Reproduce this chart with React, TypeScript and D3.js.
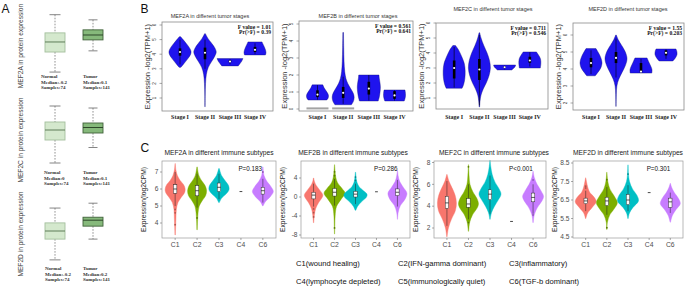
import React from "react";
import * as d3 from "d3";

type Prof = [number, number][];
type Box5 = [number, number, number, number, number];

// ================= DATA =================
// Panel A: protein expression box plots [min, q1, median, q3, max]
const proteinGenes = ["MEF2A", "MEF2C", "MEF2D"];
const proteinNormalBoxes: Box5[] = [
  [-1.49, -0.63, -0.2, 0.19, 0.97],
  [-1.32, -0.4, 0.0, 0.32, 0.96],
  [-1.27, -0.5, -0.2, 0.1, 0.65],
];
const proteinTumorBoxes: Box5[] = [
  [-0.58, -0.11, 0.1, 0.32, 0.75],
  [-0.7, -0.12, 0.1, 0.28, 0.88],
  [-0.5, -0.02, 0.2, 0.31, 0.83],
];
const proteinNormalMedians = ["-0.2", "0", "-0.2"];
const proteinTumorMedians = ["0.1", "0.1", "0.2"];
const proteinSamples = [74, 141];

// Panel B: tumor stages (violin profiles: [value, relative half-width])
const stageLabels = ["Stage I", "Stage II", "Stage III", "Stage IV"];
const stageGenes = ["MEF2A", "MEF2B", "MEF2C", "MEF2D"];
const stageFValues = ["1.01", "0.561", "0.711", "1.55"];
const stagePValues = ["0.39", "0.641", "0.546", "0.203"];
const stageTicks = [[1, 2, 3, 4, 5, 6], [0, 1, 2, 3, 4, 5], [1, 2, 3, 4, 5, 6], [2, 3, 4, 5, 6]];

const mef2aStageViolins: Prof[] = [
  [[3.1, 0.08], [3.35, 0.35], [3.7, 0.72], [4.0, 0.97], [4.2, 1], [4.45, 0.85], [4.75, 0.55], [5.0, 0.28], [5.2, 0.06]],
  [[0.4, 0.01], [1.2, 0.02], [2.0, 0.05], [2.6, 0.12], [3.1, 0.3], [3.5, 0.6], [3.85, 0.88], [4.15, 1.02], [4.45, 0.88], [4.8, 0.55], [5.1, 0.25], [5.4, 0.04]],
  [[3.2, 0.75], [3.35, 0.9], [3.5, 1.05], [3.7, 1.18]],
  [[3.95, 0.95], [4.1, 1], [4.3, 0.95], [4.5, 0.85], [4.7, 0.72], [4.84, 0.64]],
];
const mef2aStageBoxes: Box5[] = [
  [3.3, 3.9, 4.15, 4.4, 5.0],
  [3.0, 3.65, 4.1, 4.45, 5.0],
  [3.3, 3.45, 3.5, 3.58, 3.65],
  [4.0, 4.15, 4.3, 4.5, 4.75],
];
const mef2bStageViolins: Prof[] = [
  [[0.53, 0.85], [0.65, 0.97], [0.8, 1], [0.95, 0.9], [1.1, 0.75], [1.25, 0.6], [1.42, 0.48]],
  [[0.25, 0.75], [0.45, 0.93], [0.7, 1], [0.95, 0.9], [1.2, 0.68], [1.5, 0.42], [1.8, 0.25], [2.2, 0.14], [2.8, 0.08], [3.6, 0.05], [4.5, 0.03]],
  [[0.47, 0.85], [0.7, 0.95], [1.0, 1.02], [1.3, 1.05], [1.6, 1.0], [1.8, 0.95], [2.0, 0.92]],
  [[0.47, 0.88], [0.6, 0.95], [0.8, 1], [1.0, 0.98], [1.12, 0.95]],
];
const mef2bStageBoxes: Box5[] = [
  [0.55, 0.7, 0.85, 1.1, 1.4],
  [0.3, 0.65, 0.95, 1.3, 1.9],
  [0.5, 0.85, 1.2, 1.6, 2.0],
  [0.5, 0.6, 0.8, 1.05, 1.1],
];
const mef2bStageZeroGroups = ["Stage I", "Stage II"];
const mef2cStageViolins: Prof[] = [
  [[1.65, 0.72], [1.9, 0.86], [2.3, 0.97], [2.8, 1], [3.3, 0.92], [3.8, 0.66], [4.2, 0.4], [4.5, 0.12]],
  [[0.4, 0.02], [0.8, 0.06], [1.2, 0.15], [1.6, 0.35], [2.0, 0.62], [2.5, 0.88], [3.0, 1], [3.5, 0.92], [4.0, 0.7], [4.5, 0.4], [5.0, 0.15], [5.35, 0.03]],
  [[2.87, 0.65], [3.0, 0.85], [3.12, 0.97], [3.2, 1.0]],
  [[3.0, 0.95], [3.3, 1.0], [3.6, 0.97], [3.85, 0.8], [4.07, 0.6]],
];
const mef2cStageBoxes: Box5[] = [
  [1.7, 2.3, 3.0, 3.5, 4.4],
  [0.5, 2.2, 2.9, 3.6, 5.2],
  [2.9, 3.0, 3.05, 3.1, 3.15],
  [3.1, 3.35, 3.5, 3.75, 4.05],
];
const mef2dStageViolins: Prof[] = [
  [[3.6, 0.38], [3.8, 0.62], [4.05, 0.88], [4.35, 1], [4.65, 0.9], [4.95, 0.68], [5.2, 0.45]],
  [[1.8, 0.01], [2.5, 0.03], [3.0, 0.08], [3.4, 0.25], [3.8, 0.55], [4.2, 0.85], [4.6, 1], [5.0, 0.85], [5.4, 0.5], [5.7, 0.22], [6.0, 0.03]],
  [[3.76, 0.98], [3.95, 1], [4.15, 0.9], [4.4, 0.72], [4.65, 0.55]],
  [[4.47, 0.62], [4.65, 0.85], [4.85, 1], [5.05, 0.98], [5.18, 0.9]],
];
const mef2dStageBoxes: Box5[] = [
  [3.7, 4.1, 4.35, 4.65, 5.1],
  [3.5, 4.35, 4.65, 5.0, 5.8],
  [3.76, 3.8, 3.85, 4.35, 4.6],
  [4.6, 4.8, 4.95, 5.1, 5.15],
];

// Panel C: immune subtypes [whiskerLow, q1, median, q3, whiskerHigh]
const subtypeLabels = ["C1", "C2", "C3", "C4", "C6"];
const subtypeGenes = ["MEF2A", "MEF2B", "MEF2C", "MEF2D"];
const subtypePValues = ["P=0.183", "P=0.286", "P<0.001", "P=0.301"];
const subtypeTicks = [[4, 5, 6, 7], [-8, -4, 0, 4], [2, 4, 6, 8], [4.5, 5.5, 6.5, 7.5, 8.5]];
const subtypeLegend = [
  ["C1(wound healing)", "C2(IFN-gamma dominant)", "C3(inflammatory)"],
  ["C4(lymphocyte depleted)", "C5(immunologically quiet)", "C6(TGF-b dominant)"],
];

const mef2aSubtypeViolins: (Prof | null)[] = [
  [[3.3, 0.02], [3.8, 0.05], [4.3, 0.08], [4.8, 0.12], [5.2, 0.28], [5.5, 0.6], [5.8, 0.95], [6.0, 1], [6.25, 0.85], [6.5, 0.5], [6.8, 0.22], [7.1, 0.08], [7.5, 0.01]],
  [[3.6, 0.02], [4.1, 0.05], [4.6, 0.1], [5.0, 0.22], [5.3, 0.5], [5.6, 0.85], [5.9, 0.95], [6.2, 0.8], [6.5, 0.45], [6.8, 0.18], [7.3, 0.02]],
  [[5.2, 0.03], [5.45, 0.25], [5.7, 0.7], [5.95, 1], [6.2, 0.95], [6.5, 0.6], [6.8, 0.25], [7.2, 0.03]],
  null,
  [[5.0, 0.02], [5.25, 0.25], [5.55, 0.75], [5.85, 1.05], [6.15, 0.8], [6.45, 0.4], [6.8, 0.12], [7.3, 0.02]],
];
const mef2aSubtypeBoxes: (Box5 | null)[] = [
  [5.0, 5.75, 6.0, 6.25, 7.0], [4.9, 5.6, 5.9, 6.2, 6.9], [5.4, 5.85, 6.1, 6.35, 6.9], null, [5.2, 5.7, 5.9, 6.1, 6.6],
];
const mef2aSubtypeOutliers = [[4.8, 4.6, 3.9], [4.3], [], [], [7.0]];
const mef2aSubtypeSingle = 5.85;

const mef2bSubtypeViolins: (Prof | null)[] = [
  [[-5.4, 0.02], [-4, 0.07], [-2.5, 0.2], [-1.2, 0.5], [0, 0.88], [0.5, 0.92], [1.5, 0.6], [2.5, 0.25], [3.3, 0.08], [4.0, 0.02]],
  [[-7.8, 0.01], [-6, 0.03], [-4, 0.06], [-2, 0.2], [-0.5, 0.65], [0.8, 1.05], [1.8, 0.75], [3, 0.3], [4.2, 0.12], [5.5, 0.05], [6.8, 0.01]],
  [[-2.8, 0.03], [-2, 0.2], [-1, 0.6], [0, 1.1], [0.6, 1.15], [1.3, 0.8], [2.2, 0.35], [3.3, 0.12], [5.2, 0.02]],
  null,
  [[-4.7, 0.01], [-3.2, 0.08], [-1.8, 0.3], [-0.5, 0.75], [0.8, 0.95], [2, 0.6], [3.3, 0.22], [4.5, 0.07], [5.6, 0.01]],
];
const mef2bSubtypeBoxes: (Box5 | null)[] = [
  [-2.0, -0.4, 0.4, 1.0, 2.8], [-1.8, 0.2, 1.0, 1.8, 3.8], [-1.5, 0.0, 0.6, 1.2, 2.8], null, [-2.0, 0.3, 1.0, 1.7, 3.6],
];
const mef2bSubtypeOutliers = [[-2.5, -3.3, -4.2], [4.5, 5.3, -6.5], [3.5, 4.2], [], []];
const mef2bSubtypeSingle = 1.1;

const mef2cSubtypeViolins: (Prof | null)[] = [
  [[1.2, 0.02], [2.0, 0.15], [2.8, 0.45], [3.6, 0.85], [4.3, 0.95], [5.0, 0.82], [5.7, 0.5], [6.3, 0.2], [6.9, 0.02]],
  [[1.7, 0.02], [2.5, 0.12], [3.2, 0.4], [3.8, 0.85], [4.2, 1], [4.7, 0.85], [5.3, 0.45], [6, 0.15], [6.8, 0.06], [7.8, 0.01]],
  [[2.8, 0.02], [3.4, 0.15], [4.0, 0.45], [4.6, 0.85], [5.1, 1.1], [5.6, 0.9], [6.2, 0.5], [6.9, 0.22], [7.6, 0.08], [8.2, 0.01]],
  null,
  [[2.5, 0.02], [3.2, 0.12], [3.9, 0.45], [4.5, 0.9], [4.9, 1.05], [5.4, 0.8], [6, 0.4], [6.6, 0.13], [7.2, 0.01]],
];
const mef2cSubtypeBoxes: (Box5 | null)[] = [
  [2.2, 3.8, 4.3, 4.9, 6.3], [2.8, 3.9, 4.2, 4.7, 6.0], [3.3, 4.6, 5.1, 5.5, 6.8], null, [3.3, 4.4, 4.8, 5.2, 6.0],
];
const mef2cSubtypeOutliers = [[], [7.6, 2.5], [], [], [6.4, 3.2]];
const mef2cSubtypeSingle = 2.6;

const mef2dSubtypeViolins: (Prof | null)[] = [
  [[5.5, 0.02], [5.8, 0.2], [6.1, 0.65], [6.4, 1.05], [6.65, 0.85], [6.9, 0.42], [7.2, 0.2], [7.5, 0.08], [7.7, 0.01]],
  [[4.9, 0.01], [5.3, 0.06], [5.7, 0.3], [6.0, 0.7], [6.35, 1.05], [6.7, 0.75], [7.1, 0.3], [7.5, 0.1], [8.0, 0.01]],
  [[5.5, 0.02], [5.8, 0.15], [6.1, 0.5], [6.45, 1.05], [6.75, 0.9], [7.1, 0.45], [7.5, 0.15], [7.9, 0.05], [8.4, 0.01]],
  null,
  [[5.3, 0.02], [5.65, 0.2], [6.0, 0.6], [6.3, 1.0], [6.6, 0.8], [6.9, 0.4], [7.2, 0.12], [7.4, 0.01]],
];
const mef2dSubtypeBoxes: (Box5 | null)[] = [
  [5.9, 6.3, 6.45, 6.6, 7.0], [5.7, 6.2, 6.45, 6.65, 7.2], [5.9, 6.25, 6.5, 6.8, 7.3], null, [5.8, 6.1, 6.4, 6.6, 6.9],
];
const mef2dSubtypeOutliers = [[7.25, 7.15], [7.6, 5.0], [7.9], [], []];
const mef2dSubtypeSingle = 6.9;

// ================= LAYOUT / STYLE =================
const SANS = "'Liberation Sans', Arial, Helvetica, sans-serif";
const SERIF = "'Liberation Serif', 'Times New Roman', serif";
const VIOLIN_BLUE = "#1f14ee";
const SUBTYPE_COLORS = ["#F8766D", "#7CAE00", "#00BFC4", "#444444", "#C77CFF"];

const proteinLayout = [
  { dom: [-1.5, 1], rng: [72.3, 14], labelY: 46, textY: 78, normalTextX: 41 },
  { dom: [-1.5, 1], rng: [167.5, 105], labelY: 140, textY: 174, normalTextX: 44 },
  { dom: [-1.5, 1], rng: [266.1, 198.6], labelY: 234, textY: 270, normalTextX: 45 },
];

const stageLayout = [
  { x0: 162, x1: 273, y0: 22, y1: 111, dom: [0, 6], rng: [112.6, 25], titleX: 210, titleY: 18 },
  { x0: 299, x1: 413, y0: 21, y1: 111, dom: [0, 5], rng: [109, 24], titleX: 358, titleY: 18 },
  { x0: 436, x1: 548, y0: 23, y1: 109, dom: [1, 6], rng: [98, 23], titleX: 493, titleY: 11 },
  { x0: 573, x1: 684, y0: 23, y1: 110, dom: [2, 6], rng: [103, 35], titleX: 628, titleY: 11 },
];

const subtypeLayout = [
  { x0: 162, x1: 276, titleX: 219, dom: [4, 7], rng: [223, 172] },
  { x0: 301, x1: 410, titleX: 353, dom: [-8, 4], rng: [235, 178] },
  { x0: 434, x1: 546, titleX: 494, dom: [2, 8], rng: [228, 162.5] },
  { x0: 573, x1: 683, titleX: 628, dom: [4.5, 8.5], rng: [237, 163] },
];
const C_Y0 = 161;
const C_Y1 = 238;

const stageViolins = [mef2aStageViolins, mef2bStageViolins, mef2cStageViolins, mef2dStageViolins];
const stageBoxes = [mef2aStageBoxes, mef2bStageBoxes, mef2cStageBoxes, mef2dStageBoxes];
const stageZeros = [[], mef2bStageZeroGroups, [], []];

const subtypeViolins = [mef2aSubtypeViolins, mef2bSubtypeViolins, mef2cSubtypeViolins, mef2dSubtypeViolins];
const subtypeBoxes = [mef2aSubtypeBoxes, mef2bSubtypeBoxes, mef2cSubtypeBoxes, mef2dSubtypeBoxes];
const subtypeOutliers = [mef2aSubtypeOutliers, mef2bSubtypeOutliers, mef2cSubtypeOutliers, mef2dSubtypeOutliers];
const subtypeSingles = [mef2aSubtypeSingle, mef2bSubtypeSingle, mef2cSubtypeSingle, mef2dSubtypeSingle];

function violinPath(prof: Prof, cx: number, y: d3.ScaleLinear<number, number>, hw: number) {
  const a = d3
    .area<[number, number]>()
    .y((d) => y(d[0]))
    .x0((d) => cx - hw * d[1])
    .x1((d) => cx + hw * d[1])
    .curve(d3.curveCatmullRom.alpha(0.5));
  return a(prof) || "";
}

function ProteinRow({ r }: { r: number }) {
  const L = proteinLayout[r];
  const y = d3.scaleLinear().domain(L.dom).range(L.rng);
  const groups = [
    { box: proteinNormalBoxes[r], cx: 55, fill: "#d4e8cd", stroke: "#a4bf9d", med: "#5f7d59", cap: 11, tx: L.normalTextX, name: "Normal", m: proteinNormalMedians[r], n: proteinSamples[0] },
    { box: proteinTumorBoxes[r], cx: 93, fill: "#86b97b", stroke: "#40623a", med: "#2d4729", cap: 9, tx: 83, name: "Tumor", m: proteinTumorMedians[r], n: proteinSamples[1] },
  ];
  return (
    <g>
      <text
        transform={`translate(23,${L.labelY}) rotate(-90)`}
        textAnchor="middle"
        fontFamily={SANS}
        fontSize={6.6}
        fill="#444"
      >
        {proteinGenes[r]} in protein expression
      </text>
      {groups.map((g, i) => {
        const [mn, q1, md, q3, mx] = g.box;
        return (
          <g key={i}>
            <line x1={g.cx} x2={g.cx} y1={y(mx)} y2={y(q3)} stroke="#777" strokeWidth={0.8} strokeDasharray="1.6,1.4" />
            <line x1={g.cx} x2={g.cx} y1={y(q1)} y2={y(mn)} stroke="#777" strokeWidth={0.8} strokeDasharray="1.6,1.4" />
            <line x1={g.cx - g.cap / 2} x2={g.cx + g.cap / 2} y1={y(mx)} y2={y(mx)} stroke="#666" strokeWidth={0.8} />
            <line x1={g.cx - g.cap / 2} x2={g.cx + g.cap / 2} y1={y(mn)} y2={y(mn)} stroke="#666" strokeWidth={0.8} />
            <rect x={g.cx - 10} y={y(q3)} width={20} height={y(q1) - y(q3)} fill={g.fill} stroke={g.stroke} strokeWidth={0.9} />
            <line x1={g.cx - 10} x2={g.cx + 10} y1={y(md)} y2={y(md)} stroke={g.med} strokeWidth={1} />
            <g fontFamily={SERIF} fontWeight="bold" fontSize={5} fill="#333">
              <text x={g.tx} y={L.textY}>{g.name}</text>
              <text x={g.tx} y={L.textY + 5.7}>Median:{g.m}</text>
              <text x={g.tx} y={L.textY + 11.4}>Samples:{g.n}</text>
            </g>
          </g>
        );
      })}
    </g>
  );
}

function StagePanel({ k }: { k: number }) {
  const L = stageLayout[k];
  const x = d3.scalePoint<string>().domain(stageLabels).range([L.x0, L.x1]).padding(0.72);
  const y = d3.scaleLinear().domain(L.dom).range(L.rng);
  const HW = 11;
  return (
    <g>
      <text x={L.titleX} y={L.titleY} textAnchor="middle" fontFamily={SANS} fontSize={5.5} fill="#333">
        {stageGenes[k]} in different tumor stages
      </text>
      {stageViolins[k].map((p, i) => (
        <path key={i} d={violinPath(p, x(stageLabels[i])!, y, HW)} fill={VIOLIN_BLUE} stroke="#10107a" strokeWidth={0.4} />
      ))}
      {stageZeros[k].map((s) => (
        <rect key={s} x={x(s)! - HW} y={y(0) - 1.6} width={HW * 2} height={2} fill="#a3a3a3" />
      ))}
      {stageBoxes[k].map((b, i) => {
        const cx = x(stageLabels[i])!;
        return (
          <g key={i}>
            <line x1={cx} x2={cx} y1={y(b[0])} y2={y(b[4])} stroke="#000" strokeWidth={0.6} />
            <rect x={cx - 1.3} y={y(b[3])} width={2.6} height={Math.max(0.8, y(b[1]) - y(b[3]))} fill="#000" />
            <circle cx={cx} cy={y(b[2])} r={1.1} fill="#fff" />
          </g>
        );
      })}
      <rect x={L.x0} y={L.y0} width={L.x1 - L.x0} height={L.y1 - L.y0} fill="none" stroke="#8a8a8a" strokeWidth={0.8} />
      {stageTicks[k].map((t) => (
        <g key={t}>
          <line x1={L.x0 - 2.5} x2={L.x0} y1={y(t)} y2={y(t)} stroke="#555" strokeWidth={0.5} />
          <text
            transform={`translate(${L.x0 - 6},${y(t)}) rotate(-90)`}
            textAnchor="middle"
            fontFamily={SANS}
            fontSize={4.5}
            fill="#333"
          >
            {t}
          </text>
        </g>
      ))}
      {stageLabels.map((s) => (
        <text key={s} x={x(s)} y={119} textAnchor="middle" fontFamily={SERIF} fontWeight="bold" fontSize={6} fill="#222">
          {s}
        </text>
      ))}
      <g fontFamily={SERIF} fontWeight="bold" fontSize={5.6} fill="#111" textAnchor="end">
        <text x={L.x1 - 2} y={L.y0 + 6.5}>F value = {stageFValues[k]}</text>
        <text x={L.x1 - 2} y={L.y0 + 11.5}>Pr(&gt;F) = {stagePValues[k]}</text>
      </g>
      <text
        transform={`translate(${L.x0 - 12},${(L.y0 + L.y1) / 2}) rotate(-90)`}
        textAnchor="middle"
        fontFamily={SANS}
        fontSize={7.5}
        fill="#333"
      >
        Expression -log2(TPM+1)
      </text>
    </g>
  );
}

function SubtypePanel({ k }: { k: number }) {
  const L = subtypeLayout[k];
  const x = d3.scalePoint<string>().domain(subtypeLabels).range([L.x0, L.x1]).padding(0.6);
  const y = d3.scaleLinear().domain(L.dom).range(L.rng);
  const HW = 10;
  return (
    <g>
      <text x={L.titleX} y={155} textAnchor="middle" fontFamily={SANS} fontSize={6.7} fill="#222">
        {subtypeGenes[k]} in different immune subtypes
      </text>
      {subtypeViolins[k].map((p, i) =>
        p ? (
          <path
            key={i}
            d={violinPath(p, x(subtypeLabels[i])!, y, HW)}
            fill={SUBTYPE_COLORS[i]}
            stroke={SUBTYPE_COLORS[i]}
            strokeWidth={0.4}
          />
        ) : null
      )}
      {subtypeOutliers[k].map((vals, i) =>
        vals.map((v, j) => (
          <circle
            key={`${i}-${j}`}
            cx={x(subtypeLabels[i])!}
            cy={y(v)}
            r={0.9}
            fill={d3.color(SUBTYPE_COLORS[i])!.darker(1).formatHex()}
          />
        ))
      )}
      {subtypeBoxes[k].map((b, i) => {
        if (!b) return null;
        const cx = x(subtypeLabels[i])!;
        return (
          <g key={i}>
            <line x1={cx} x2={cx} y1={y(b[0])} y2={y(b[4])} stroke="#222" strokeWidth={0.5} />
            <rect x={cx - 1.7} y={y(b[3])} width={3.4} height={y(b[1]) - y(b[3])} fill="#fafafa" stroke="#222" strokeWidth={0.45} />
            <line x1={cx - 1.7} x2={cx + 1.7} y1={y(b[2])} y2={y(b[2])} stroke="#111" strokeWidth={0.7} />
          </g>
        );
      })}
      <line
        x1={x("C4")! - 1.4}
        x2={x("C4")! + 1.4}
        y1={y(subtypeSingles[k])}
        y2={y(subtypeSingles[k])}
        stroke="#333"
        strokeWidth={0.9}
      />
      <rect x={L.x0} y={C_Y0} width={L.x1 - L.x0} height={C_Y1 - C_Y0} fill="none" stroke="#9a9a9a" strokeWidth={0.7} />
      <text x={x("C4")! - 2.5} y={170.5} fontFamily={SANS} fontSize={6.3} fill="#111">
        {subtypePValues[k]}
      </text>
      {subtypeTicks[k].map((t) => (
        <g key={t}>
          <line x1={L.x0 - 2} x2={L.x0} y1={y(t)} y2={y(t)} stroke="#555" strokeWidth={0.5} />
          <text x={L.x0 - 3.5} y={y(t) + 2.3} textAnchor="end" fontFamily={SANS} fontSize={6.6} fill="#4d4d4d">
            {t}
          </text>
        </g>
      ))}
      {subtypeLabels.map((s) => (
        <g key={s}>
          <line x1={x(s)} x2={x(s)} y1={C_Y1} y2={C_Y1 + 2} stroke="#555" strokeWidth={0.5} />
          <text x={x(s)} y={247} textAnchor="middle" fontFamily={SANS} fontSize={6.8} fill="#4d4d4d">
            {s}
          </text>
        </g>
      ))}
      <text
        transform={`translate(${L.x0 - 16},${(C_Y0 + C_Y1) / 2}) rotate(-90)`}
        textAnchor="middle"
        fontFamily={SANS}
        fontSize={6.7}
        fill="#222"
      >
        Expression(log2CPM)
      </text>
    </g>
  );
}

export default function App() {
  const legendX = [296, 398, 509];
  const legendY = [265.5, 283.5];
  return (
    <svg
      width={685}
      height={286}
      viewBox="0 0 685 286"
      style={{ position: "absolute", left: 0, top: 0, background: "#fff" }}
    >
      <rect width={685} height={286} fill="#fff" />
      <g fontFamily={SANS} fontSize={12} fill="#111">
        <text x={1.5} y={13}>A</text>
        <text x={140.5} y={13}>B</text>
        <text x={140.5} y={152}>C</text>
      </g>
      {proteinGenes.map((_, r) => (
        <ProteinRow key={r} r={r} />
      ))}
      {stageGenes.map((_, k) => (
        <StagePanel key={k} k={k} />
      ))}
      {subtypeGenes.map((_, k) => (
        <SubtypePanel key={k} k={k} />
      ))}
      <g fontFamily={SANS} fontSize={7.6} fill="#111">
        {subtypeLegend.map((row, ri) =>
          row.map((t, ci) => (
            <text key={t} x={legendX[ci]} y={legendY[ri]}>
              {t}
            </text>
          ))
        )}
      </g>
    </svg>
  );
}
